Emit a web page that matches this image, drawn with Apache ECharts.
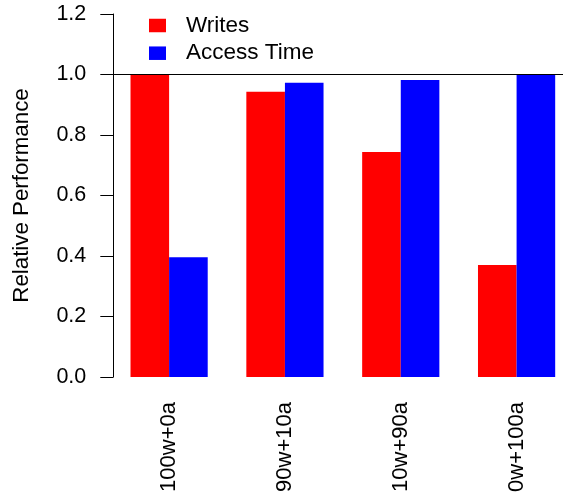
<!DOCTYPE html>
<html>
<head>
<meta charset="utf-8">
<script src="https://cdn.jsdelivr.net/npm/echarts@6/dist/echarts.min.js"></script>
<style>html,body{margin:0;padding:0;background:#fff;overflow:hidden;width:563px;height:495px}#c{width:580px;height:495px}</style>
</head>
<body>
<div id="c"></div>
<script>
const categories = ['100w+0a', '90w+10a', '10w+90a', '0w+100a'];
const writes = [1.0, 0.943, 0.744, 0.370];
const accessTime = [0.396, 0.973, 0.982, 1.0];
const yTicks = [0, 0.2, 0.4, 0.6, 0.8, 1.0, 1.2];

const FONT = 'Liberation Sans, Arial, Helvetica, sans-serif';
const chart = echarts.init(document.getElementById('c'), null, {renderer: 'canvas'});
chart.setOption({
  animation: false,
  backgroundColor: '#fff',
  textStyle: {fontFamily: FONT},
  grid: {left: 111.2, top: 14, width: 463.3, height: 363},
  legend: {
    orient: 'vertical', left: 149, top: 14, padding: 0,
    itemWidth: 17, itemHeight: 13.5, itemGap: 4.7,
    icon: 'rect',
    textStyle: {fontFamily: FONT, fontSize: 22.5, color: '#000', lineHeight: 22, padding: [0, 0, 0, 15]},
    data: ['Writes', 'Access Time']
  },
  xAxis: {
    type: 'category', data: categories,
    axisLine: {show: false}, axisTick: {show: false},
    axisLabel: {rotate: 90, margin: 25, fontSize: 22, color: '#000', fontFamily: FONT, interval: 0}
  },
  yAxis: {
    type: 'value', min: yTicks[0], max: yTicks[yTicks.length - 1], interval: 0.2,
    offset: -2.1,
    name: 'Relative Performance', nameLocation: 'middle', nameGap: 80,
    nameTextStyle: {fontSize: 22.3, color: '#000', fontFamily: FONT},
    axisLine: {show: true, lineStyle: {color: '#000', width: 1}},
    axisTick: {show: true, length: 13, lineStyle: {color: '#000', width: 1}},
    splitLine: {show: false},
    axisLabel: {margin: 27, fontSize: 21.5, color: '#000', fontFamily: FONT,
      formatter: v => v.toFixed(1)}
  },
  series: [
    {name: 'Writes', type: 'bar', data: writes, barWidth: 38.6, barGap: '0%',
     itemStyle: {color: '#ff0000'}},
    {name: 'Access Time', type: 'bar', data: accessTime, barWidth: 38.6, barGap: '0%',
     itemStyle: {color: '#0000ff'},
     markLine: {silent: true, symbol: 'none', label: {show: false},
       lineStyle: {color: '#000', width: 1, type: 'solid'},
       data: [{yAxis: 1}]}}
  ]
});
</script>
</body>
</html>
